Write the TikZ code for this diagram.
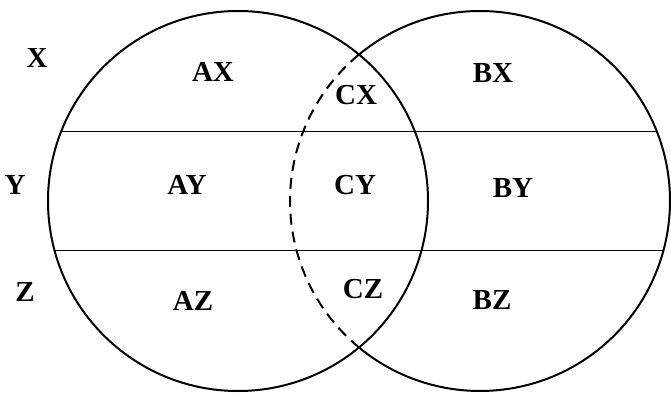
\documentclass[tikz,border=0pt]{standalone}
\usepackage{fontspec}
\setmainfont{Liberation Serif}
\usetikzlibrary{calc}
\begin{document}
\begin{tikzpicture}[x=1pt,y=1pt,
  lab/.style={font=\fontsize{29}{29}\selectfont\bfseries, inner sep=0pt},
  ring/.style={line width=2pt},
  band/.style={line width=0.9pt},
  hidden/.style={line width=2pt, dash pattern=on 11pt off 7pt}]
\useasboundingbox (0,0) rectangle (671,397);
% circles
\coordinate (L) at (238,196);
\coordinate (R) at (480,196);
\node[circle, draw, ring, minimum size=380pt, inner sep=0pt] (A) at (L) {};
\coordinate (T) at ($(R)+(129.56:190)$);
\draw[ring] (T) arc[start angle=129.56, end angle=-129.56, radius=190];
\draw[hidden] (T) arc[start angle=129.56, end angle=230.44, radius=190];
% bands
\coordinate (h1l) at (61.4,266);
\coordinate (h1r) at (656.6,266);
\coordinate (h2l) at (54.4,147);
\coordinate (h2r) at (663.6,147);
\draw[band] (h1l) -- (h1r);
\draw[band] (h2l) -- (h2r);
% labels
\node[lab] (x) at (37,339) {X};
\node[lab] (y) at (15,212) {Y};
\node[lab] (z) at (25,105) {Z};
\node[lab] (ax) at (213,325) {AX};
\node[lab] (ay) at (187,212) {AY};
\node[lab] (az) at (193,96) {AZ};
\node[lab] (cx) at (356,302) {CX};
\node[lab] (cy) at (355,212) {CY};
\node[lab] (cz) at (363,108) {CZ};
\node[lab] (bx) at (493,324) {BX};
\node[lab] (by) at (513,209) {BY};
\node[lab] (bz) at (492,97) {BZ};
\end{tikzpicture}
\end{document}
